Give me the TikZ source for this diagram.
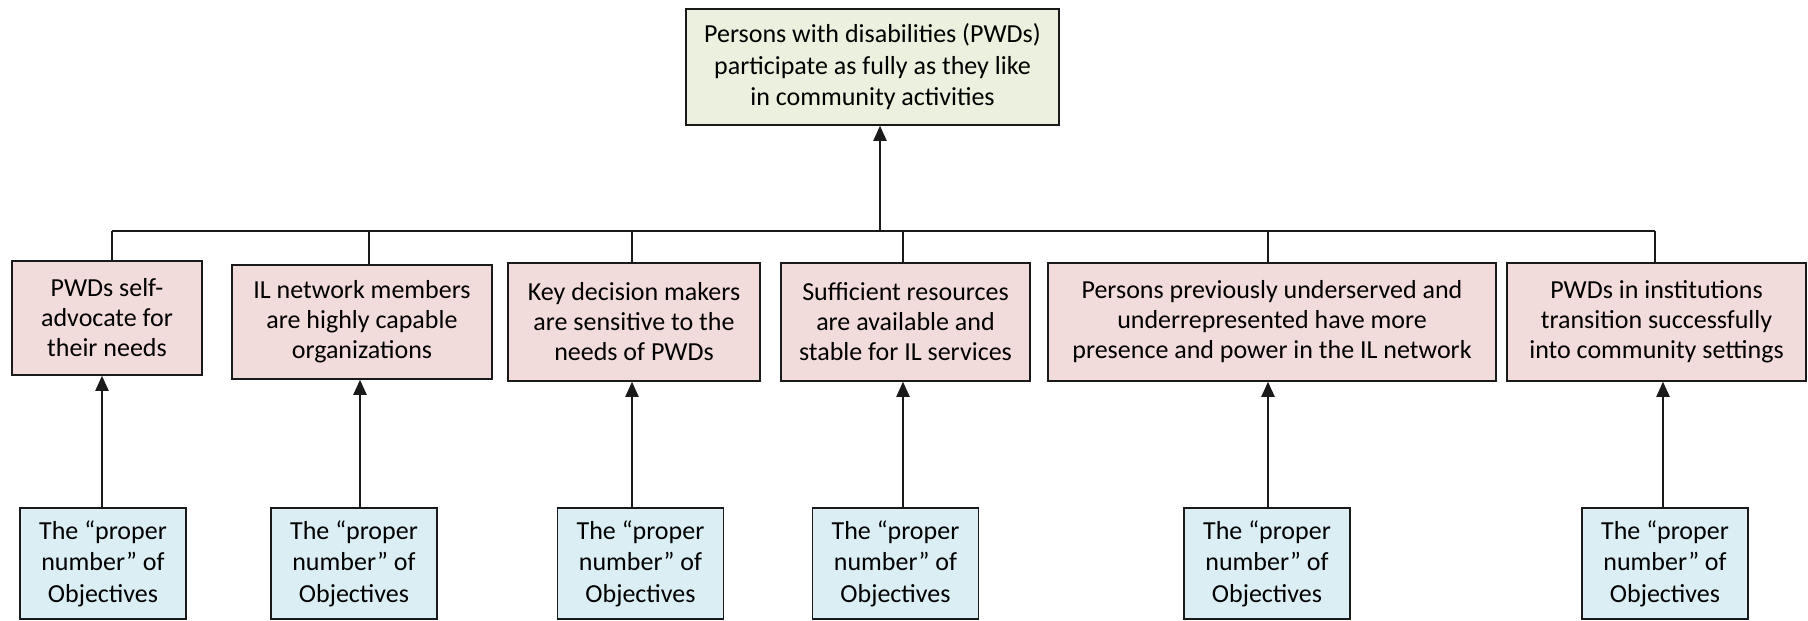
\documentclass[tikz,border=0pt]{standalone}
\usepackage{fontspec}
\setmainfont{Carlito}
\usetikzlibrary{arrows.meta}
\definecolor{topfill}{HTML}{EBF1DE}
\definecolor{midfill}{HTML}{F2DCDB}
\definecolor{botfill}{HTML}{DBEEF4}
\definecolor{edge}{HTML}{1A1A1A}
\tikzset{
  box/.style={draw=edge, line width=1.5pt, align=center, inner sep=0pt},
  topbox/.style={box, fill=topfill, minimum width=373pt, minimum height=116pt,
     font=\fontsize{26}{31.5}\selectfont},
  midbox/.style={box, fill=midfill, minimum height=118pt,
     font=\fontsize{26}{30}\selectfont},
  botbox/.style={box, fill=botfill, minimum width=166pt, minimum height=111pt,
     font=\fontsize{26}{31.5}\selectfont},
  wire/.style={line width=2.1pt, edge},
  arr/.style={wire, -{Triangle[length=15pt,width=13pt]}}
}
\begin{document}
\begin{tikzpicture}[x=1pt,y=-1pt]
\useasboundingbox (0,0) rectangle (1808,621);
\node[topbox] (top) at (872.5,67) {Persons with disabilities (PWDs)\\participate as fully as they like\\in community activities};
\node[midbox, minimum width=190pt, minimum height=114pt] (m1) at (107,318) {PWDs self-\\advocate for\\their needs};
\node[midbox, minimum width=260pt, minimum height=114pt] (m2) at (362,322) {IL network members\\are highly capable\\organizations};
\node[midbox, minimum width=252pt] (m3) at (634,322) {Key decision makers\\are sensitive to the\\needs of PWDs};
\node[midbox, minimum width=249pt] (m4) at (905.5,322) {Sufficient resources\\are available and\\stable for IL services};
\node[midbox, minimum width=448pt] (m5) at (1272,322) {Persons previously underserved and\\underrepresented have more\\presence and power in the IL network};
\node[midbox, minimum width=299pt] (m6) at (1656.5,322) {PWDs in institutions\\transition successfully\\into community settings};
\node[botbox] (b1) at (103,563.5) {The “proper\\number” of\\Objectives};
\node[botbox] (b2) at (354,563.5) {The “proper\\number” of\\Objectives};
\node[botbox] (b3) at (640.5,563.5) {The “proper\\number” of\\Objectives};
\node[botbox] (b4) at (895.5,563.5) {The “proper\\number” of\\Objectives};
\node[botbox] (b5) at (1267,563.5) {The “proper\\number” of\\Objectives};
\node[botbox] (b6) at (1665,563.5) {The “proper\\number” of\\Objectives};
\coordinate (hub) at (880,231);
\coordinate (s1) at (112,231);
\coordinate (s2) at (369,231);
\coordinate (s3) at (632,231);
\coordinate (s4) at (903,231);
\coordinate (s5) at (1268,231);
\coordinate (s6) at (1655,231);
\draw[wire] (s1) -- (s6);
\draw[arr] (hub) -- (hub |- top.south);
\foreach \i in {1,...,6}{\draw[wire] (s\i) -- (s\i |- m\i.north);}
\draw[arr] ([xshift=-1pt]b1.north) -- ([xshift=-1pt]b1.north |- m1.south);
\draw[arr] ([xshift=6pt]b2.north) -- ([xshift=6pt]b2.north |- m2.south);
\draw[arr] ([xshift=-8.5pt]b3.north) -- ([xshift=-8.5pt]b3.north |- m3.south);
\draw[arr] ([xshift=7.5pt]b4.north) -- ([xshift=7.5pt]b4.north |- m4.south);
\draw[arr] ([xshift=1pt]b5.north) -- ([xshift=1pt]b5.north |- m5.south);
\draw[arr] ([xshift=-2pt]b6.north) -- ([xshift=-2pt]b6.north |- m6.south);
\end{tikzpicture}
\end{document}
